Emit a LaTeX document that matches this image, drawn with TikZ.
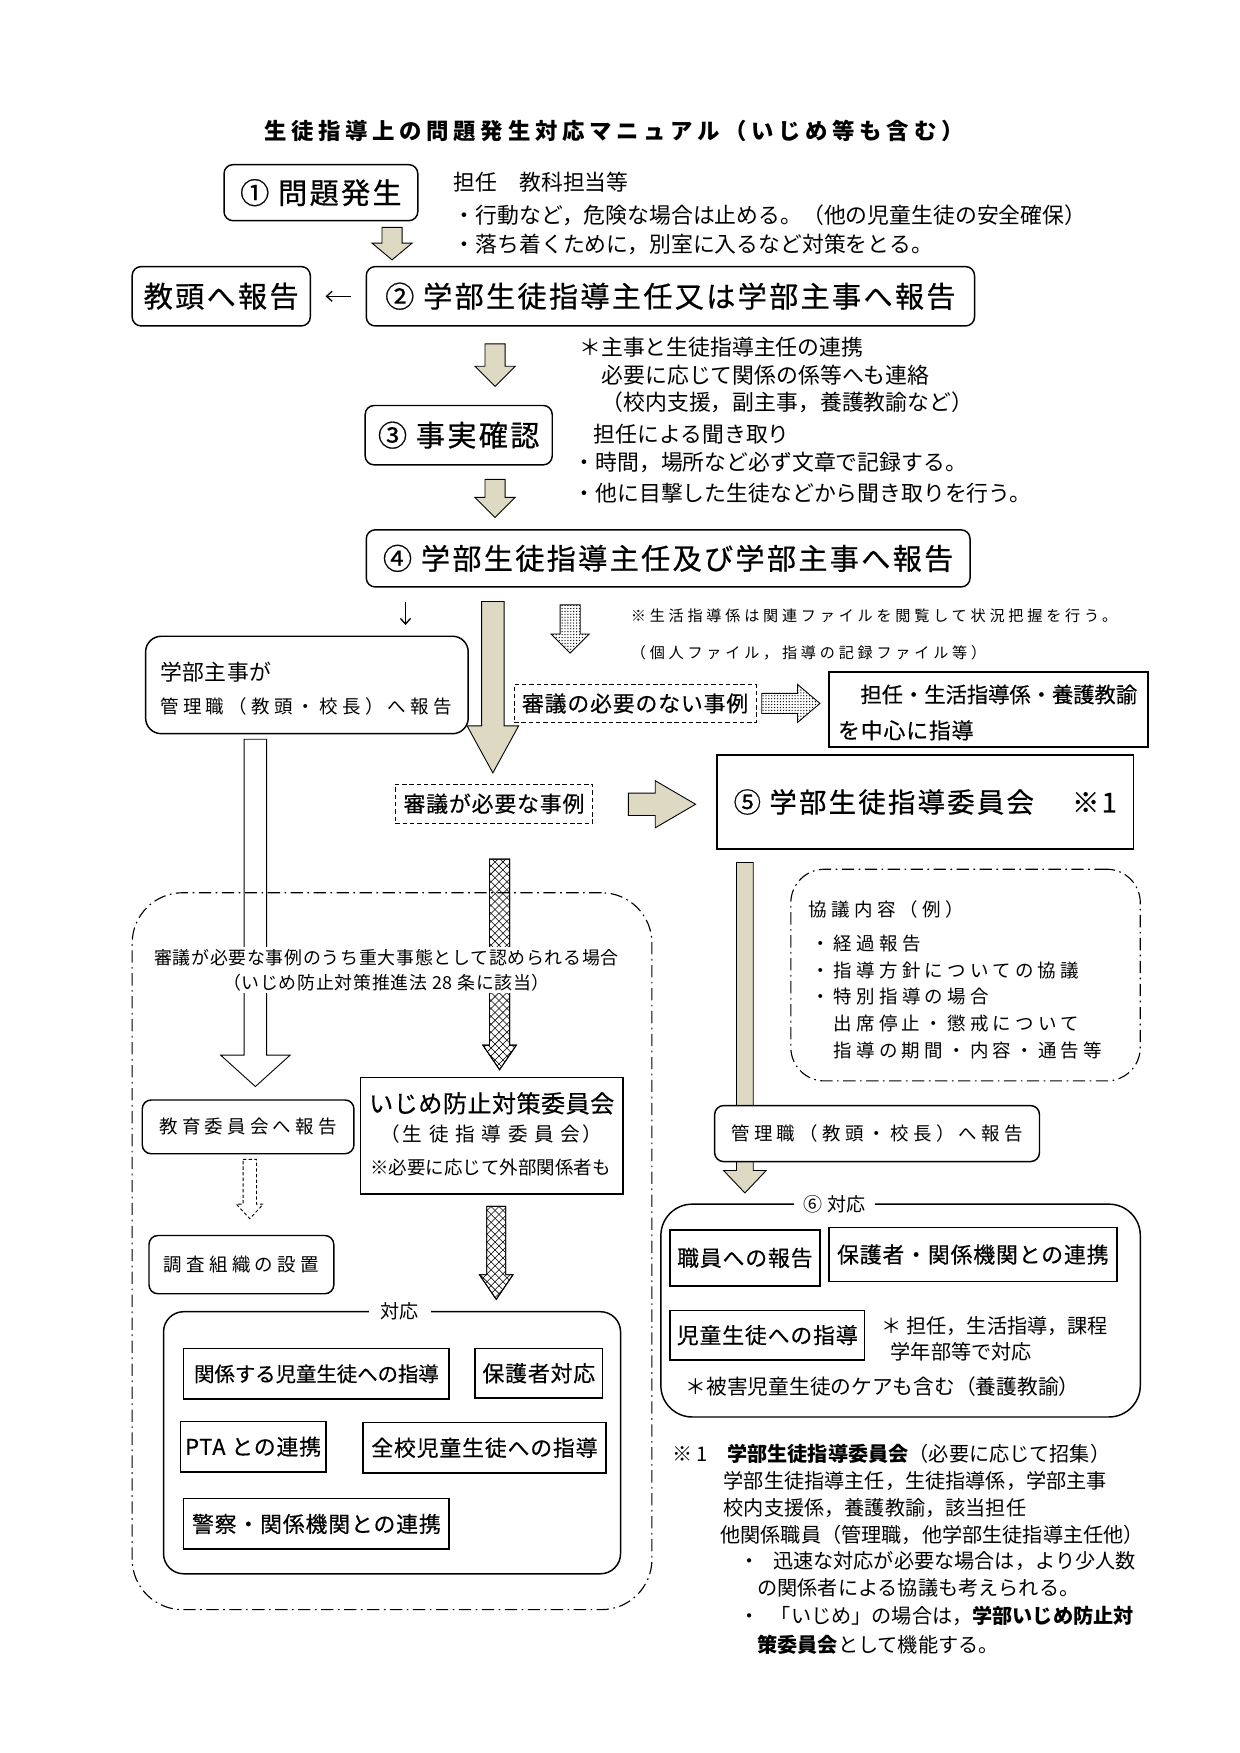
\documentclass[tikz,border=0pt]{standalone}
\usepackage{fontspec}
\setmainfont{Noto Sans CJK JP}
\usetikzlibrary{calc,arrows.meta,patterns.meta}
\definecolor{khaki}{HTML}{DDD9C3}
\newcommand{\fsz}[2]{\fontsize{#1}{#1}\selectfont\addfontfeature{LetterSpace=#2}}
\newcommand{\blockdown}[6]{%
  \draw[#1] let \p1=(#2), \p2=(#3) in
    ({\x1-#4pt},\y1) -- ({\x1+#4pt},\y1) -- ({\x1+#4pt},{\y2+#6pt})
    -- ({\x1+#5pt},{\y2+#6pt}) -- (\x1,\y2) -- ({\x1-#5pt},{\y2+#6pt})
    -- ({\x1-#4pt},{\y2+#6pt}) -- cycle;}
\newcommand{\blockright}[6]{%
  \draw[#1] let \p1=(#2), \p2=(#3) in
    (\x1,{\y1+#4pt}) -- ({\x2-#6pt},{\y1+#4pt}) -- ({\x2-#6pt},{\y1+#5pt})
    -- (\x2,\y1) -- ({\x2-#6pt},{\y1-#5pt}) -- ({\x2-#6pt},{\y1-#4pt})
    -- (\x1,{\y1-#4pt}) -- cycle;}

\begin{document}
\begin{tikzpicture}[x=1pt, y=-1pt,
  rbox/.style={draw, line width=1.3pt, rounded corners=8pt, inner sep=0pt, fill=white},
  sbox/.style={draw, line width=1.3pt, inner sep=0pt, fill=white},
  dbox/.style={draw, line width=1pt, dash pattern=on 4pt off 2.5pt, inner sep=0pt},
  chain/.style={draw, line width=1pt, dash pattern=on 11pt off 4pt on 1.5pt off 4pt},
  big/.style={font=\fsz{26}{8}\addfontfeature{FakeBold=0.6}},
  mid/.style={font=\fsz{19.5}{4}\addfontfeature{FakeBold=0.4}},
  lab/.style={font=\fsz{16.5}{23}},
  note/.style={anchor=west, inner sep=0pt, font=\fsz{19.5}{0}},
  small/.style={anchor=west, inner sep=0pt, font=\fsz{13.5}{25}},
  foot/.style={anchor=west, inner sep=0pt, font=\fsz{18}{0}},
  linearr/.style={line width=1.2pt, -{Straight Barb[length=5pt,width=9pt]}},
  beige/.style={draw, line width=0.8pt, fill=khaki},
  plain/.style={draw, line width=0.8pt, fill=white},
  dashed arr/.style={draw, line width=0.8pt, fill=white, dash pattern=on 3pt off 2pt},
  dotty/.style={draw, line width=0.8pt, fill=white,
    postaction={pattern={Dots[distance=2.6pt,radius=0.6pt]}}},
  hatch/.style={draw, line width=0.8pt, fill=white,
    postaction={pattern={Lines[angle=45,distance=5pt,line width=0.5pt]}},
    postaction={pattern={Lines[angle=-45,distance=5pt,line width=0.5pt]}},
    postaction={draw, line width=0.8pt}}]
\useasboundingbox (0,0) rectangle (1107,1565);
\fill[white] (0,0) rectangle (1107,1565);

\node[font=\bfseries\fsz{20}{21}] (title) at (548,117) {生徒指導上の問題発生対応マニュアル（いじめ等も含む）};

\node[rbox, big, minimum width=173, minimum height=50] (p1) at (286.5,172) {① 問題発生};
\node[note] (n1) at (405,163) {担任　教科担当等};
\node[note] (n2) at (405,192) {・行動など，危険な場合は止める。（他の児童生徒の安全確保）};
\node[note] (n3) at (405,218) {・落ち着くために，別室に入るなど対策をとる。};

\node[rbox, big, minimum width=159, minimum height=53] (kyoto) at (197.5,264.5) {教頭へ報告};
\node[rbox, big, minimum width=543, minimum height=53] (p2) at (598.5,264.5) {② 学部生徒指導主任又は学部主事へ報告};
\draw[linearr, shorten <=13pt, shorten >=13pt] (p2) -- (kyoto);

\node[note] (n4) at (517,310) {＊主事と生徒指導主任の連携};
\node[note] (n5) at (537,335) {必要に応じて関係の係等へも連絡};
\node[note] (n6) at (537,359) {（校内支援，副主事，養護教諭など）};

\node[rbox, big, minimum width=167, minimum height=53] (p3) at (409.5,388.5) {③ 事実確認};
\node[note] (n7) at (530,388) {担任による聞き取り};
\node[note] (n8) at (512,413) {・時間，場所など必ず文章で記録する。};
\node[note] (n9) at (512,440) {・他に目撃した生徒などから聞き取りを行う。};

\node[rbox, big, minimum width=539, minimum height=51] (p4) at (596.5,498.5) {④ 学部生徒指導主任及び学部主事へ報告};

\coordinate (a1s) at (350,203); \coordinate (a1e) at (350,232);
\coordinate (a2s) at (442,307); \coordinate (a2e) at (442,345);
\coordinate (a3s) at (442,428); \coordinate (a3e) at (442,462);
\blockdown{beige}{a1s}{a1e}{9}{18}{15}
\blockdown{beige}{a2s}{a2e}{9}{18}{18}
\blockdown{beige}{a3s}{a3e}{9}{18}{18}

\node[small] (n10) at (563,550) {※生活指導係は関連ファイルを閲覧して状況把握を行う。};
\node[small] (n11) at (563,583) {（個人ファイル，指導の記録ファイル等）};

\node[rbox, rounded corners=14pt, minimum width=288, minimum height=87] (shuji) at (274,611.5) {};
\node[note, font=\fsz{19.5}{2}] (s1) at (143,600) {学部主事が};
\node[lab, anchor=west, inner sep=0pt] (s2) at (143,631) {管理職（教頭・校長）へ報告};
\coordinate (d1) at (362,537); \coordinate (d2) at (362,558);
\draw[linearr] (d1) -- (d2);

\node[dbox, mid, minimum width=216, minimum height=34] (nashi) at (567,628) {審議の必要のない事例};
\node[sbox, minimum width=285, minimum height=67] (tanto) at (882.5,633.5) {};
\node[mid, font=\fsz{19}{0}\addfontfeature{FakeBold=0.4}, anchor=west, inner sep=0pt] (t1) at (768,620) {担任・生活指導係・養護教諭};
\node[mid, anchor=west, inner sep=0pt] (t2) at (748,652) {を中心に指導};
\node[dbox, mid, minimum width=176, minimum height=35] (hitsuyo) at (441,717.5) {審議が必要な事例};
\node[sbox, font=\fsz{24.5}{8}\addfontfeature{FakeBold=0.6}, minimum width=372, minimum height=84] (p5) at (826,716) {⑤ 学部生徒指導委員会　 ※1};

\coordinate (b1s) at (440,537); \coordinate (b1e) at (440,690);
\coordinate (b2s) at (509,540); \coordinate (b2e) at (509,583);
\coordinate (b3s) at (680,628); \coordinate (b3e) at (732,628);
\coordinate (b4s) at (561,718); \coordinate (b4e) at (621,718);
\blockdown{beige}{b1s}{b1e}{10}{23}{42}
\blockdown{dotty}{b2s}{b2e}{9}{17}{17}
\blockright{dotty}{b3s}{b3e}{9}{17}{20}
\blockright{beige}{b4s}{b4e}{10}{21}{36}

\node[chain, rounded corners=30pt, minimum width=312, minimum height=189] (kyogi) at (862,870.5) {};
\node[lab, anchor=west, inner sep=0pt] (k0) at (722,812) {協議内容（例）};
\node[lab, anchor=west, inner sep=0pt] (k1) at (724,842) {・経過報告};
\node[lab, anchor=west, inner sep=0pt] (k2) at (724,866) {・指導方針についての協議};
\node[lab, anchor=west, inner sep=0pt] (k3) at (724,890) {・特別指導の場合};
\node[lab, anchor=west, inner sep=0pt] (k4) at (744,914) {出席停止・懲戒について};
\node[lab, anchor=west, inner sep=0pt] (k5) at (744,938) {指導の期間・内容・通告等};

\coordinate (c1s) at (665,770); \coordinate (c1e) at (665,1065);
\blockdown{beige}{c1s}{c1e}{7.5}{19}{20}
\node[rbox, lab, minimum width=290, minimum height=50] (kanri) at (783,1012) {管理職（教頭・校長）へ報告};

\coordinate (e1s) at (228,660); \coordinate (e1e) at (228,970);
\coordinate (e2s) at (446,767); \coordinate (e2e) at (446,955);
\blockdown{plain}{e1s}{e1e}{10}{31}{28}
\blockdown{hatch}{e2s}{e2e}{9}{15}{22}
\node[chain, rounded corners=45pt, minimum width=464, minimum height=640] (juudai) at (350,1117) {};
\node[fill=white, inner sep=2pt, align=center, font=\fsz{16}{4}] (jt) at (345,866)
  {審議が必要な事例のうち重大事態として認められる場合\\[6pt]（いじめ防止対策推進法 28 条に該当）};

\node[rbox, lab, minimum width=189, minimum height=48] (kyoiku) at (221.5,1006) {教育委員会へ報告};
\node[sbox, minimum width=234, minimum height=104] (ijime) at (439,1014) {};
\node[font=\fsz{21.5}{2}\addfontfeature{FakeBold=0.4}, inner sep=0pt] (ij1) at (439,985) {いじめ防止対策委員会};
\node[font=\fsz{17.5}{12}, inner sep=0pt] (ij2) at (439,1012) {（生 徒 指 導 委 員 会）};
\node[font=\fsz{16.5}{0}, inner sep=0pt] (ij3) at (438,1042) {※必要に応じて外部関係者も};

\coordinate (f1s) at (223,1035); \coordinate (f1e) at (223,1088);
\coordinate (f2s) at (443,1077); \coordinate (f2e) at (443,1160);
\blockdown{dashed arr}{f1s}{f1e}{6}{12}{13}
\blockdown{hatch}{f2s}{f2e}{8.5}{15}{22}
\node[rbox, lab, minimum width=165, minimum height=52] (chosa) at (215.5,1129) {調査組織の設置};

\node[rbox, rounded corners=18pt, minimum width=408, minimum height=234] (taio) at (350,1288) {};
\node[fill=white, inner xsep=11pt, inner ysep=2pt, font=\fsz{17}{0}] (taiol) at (357,1171) {対応};
\node[sbox, font=\fsz{18.2}{0}\addfontfeature{FakeBold=0.4}, minimum width=237, minimum height=45] (m1) at (282.5,1226.5) {関係する児童生徒への指導};
\node[sbox, mid, minimum width=114, minimum height=44] (m2) at (481,1226) {保護者対応};
\node[sbox, mid, minimum width=130, minimum height=45] (m3) at (226,1291.5) {PTA との連携};
\node[sbox, mid, minimum width=217, minimum height=45] (m4) at (432.5,1292.5) {全校児童生徒への指導};
\node[sbox, mid, minimum width=237, minimum height=45] (m5) at (282.5,1360.5) {警察・関係機関との連携};

\node[rbox, rounded corners=28pt, minimum width=428, minimum height=190] (p6) at (804,1170) {};
\node[fill=white, inner xsep=8pt, inner ysep=2pt, font=\fsz{17}{4}] (p6l) at (745,1075) {⑥ 対応};
\node[sbox, mid, minimum width=134, minimum height=50] (r1) at (665,1123) {職員への報告};
\node[sbox, mid, minimum width=257, minimum height=48] (r2) at (868.5,1120) {保護者・関係機関との連携};
\node[sbox, mid, minimum width=174, minimum height=44] (r3) at (685,1192) {児童生徒への指導};
\node[foot] (q1) at (787,1184) {＊ 担任，生活指導，課程};
\node[foot] (q2) at (795,1207) {学年部等で対応};
\node[foot, font=\fsz{18.5}{0}] (q3) at (612,1238) {＊被害児童生徒のケアも含む（養護教諭）};

\node[foot] (g1) at (600,1298) {※ 1\hspace{17pt}\textbf{学部生徒指導委員会}（必要に応じて招集）};
\node[foot] (g2) at (646,1322) {学部生徒指導主任，生徒指導係，学部主事};
\node[foot] (g3) at (646,1346) {校内支援係，養護教諭，該当担任};
\node[foot] (g4) at (643,1370) {他関係職員（管理職，他学部生徒指導主任他）};
\node[foot] (g5) at (660,1394) {・\hspace{12pt}迅速な対応が必要な場合は，より少人数};
\node[foot] (g6) at (676,1418) {の関係者による協議も考えられる。};
\node[foot] (g7) at (660,1443) {・\hspace{10pt}「いじめ」の場合は，\textbf{学部いじめ防止対}};
\node[foot] (g8) at (676,1468) {\textbf{策委員会}として機能する。};
\end{tikzpicture}
\end{document}
